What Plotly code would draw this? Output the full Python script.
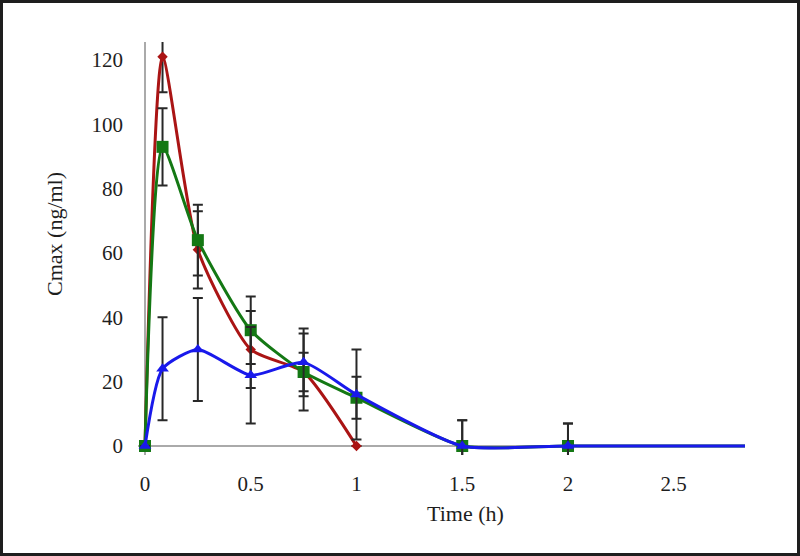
import plotly.graph_objects as go

time_h = [0, 0.083, 0.25, 0.5, 0.75, 1, 1.5, 2, 3]

red_vals = [0, 121, 61, 30, 23, 0, None, None, None]
red_err = [0, 11, 12, 12, 12, 0, 0, 0, 0]

green_vals = [0, 93, 64, 36, 23, 15, 0, 0, 0]
green_err = [0, 12, 11, 10.5, 6, 6.5, 8, 7, 0]

blue_vals = [0, 24, 30, 22, 26, 16, 0, 0, 0]
blue_err = [0, 16, 16, 15, 10.5, 14, 8, 7, 0]

x_ticks = [0, 0.5, 1, 1.5, 2, 2.5]
x_tick_labels = ["0", "0.5", "1", "1.5", "2", "2.5"]
y_ticks = [0, 20, 40, 60, 80, 100, 120]

FONT = "Liberation Serif, Times New Roman, serif"
W, H = 800, 556
ML, MR, MT, MB = 138, 55, 42, 101
PW, PH = W - ML - MR, H - MT - MB

fig = go.Figure()

series = [
    ("red", red_vals, red_err, "rgb(170,20,20)", "diamond", 8),
    ("green", green_vals, green_err, "rgb(20,120,20)", "square", 12),
    ("blue", blue_vals, blue_err, "rgb(25,25,235)", "triangle-up", 11),
]

for name, vals, err, col, sym, sz in series:
    fig.add_trace(go.Scatter(
        x=time_h, y=vals, name=name, mode="lines+markers",
        line=dict(color=col, width=3, shape="spline", smoothing=0.6),
        marker=dict(color=col, symbol=sym, size=sz),
        error_y=dict(type="data", array=err, visible=True,
                     color="rgb(40,40,40)", thickness=2, width=5),
        cliponaxis=False, showlegend=False, connectgaps=False,
    ))

fig.update_layout(
    width=W, height=H,
    margin=dict(l=ML, r=MR, t=MT, b=MB, autoexpand=False),
    paper_bgcolor="white", plot_bgcolor="white",
    font=dict(family=FONT, size=21, color="rgb(30,30,30)"),
    xaxis=dict(range=[-0.033, 2.837], tickvals=x_ticks, ticktext=x_tick_labels,
               showgrid=False, zeroline=True, zerolinecolor="rgb(170,170,170)",
               zerolinewidth=1.5, showline=False, ticks="", automargin=False,
               ticklabelstandoff=14),
    yaxis=dict(range=[-2.8, 125.6], tickvals=y_ticks, showgrid=False,
               zeroline=True, zerolinecolor="rgb(170,170,170)", zerolinewidth=1.5,
               showline=False, ticks="", automargin=False, ticklabelstandoff=14),
    annotations=[
        dict(text="Time (h)", xref="paper", yref="paper",
             x=(465 - ML) / PW, y=1 - (513 - MT) / PH, showarrow=False,
             xanchor="center", yanchor="middle",
             font=dict(family=FONT, size=22, color="rgb(30,30,30)")),
        dict(text="Cmax (ng/ml)", xref="paper", yref="paper", textangle=-90,
             x=(54 - ML) / PW, y=1 - (234 - MT) / PH, showarrow=False,
             xanchor="center", yanchor="middle",
             font=dict(family=FONT, size=22, color="rgb(30,30,30)")),
    ],
)

# dark frame around the whole picture
fig.add_shape(type="rect", xref="paper", yref="paper",
              x0=(-ML + 1.5) / PW, x1=1 + (MR - 1.5) / PW,
              y0=(-MB + 1.5) / PH, y1=1 + (MT - 1.5) / PH,
              line=dict(color="rgb(30,30,30)", width=3))

fig.write_html("out.html",
               config={"displayModeBar": False},
               post_script="document.body.style.margin='0px';")
